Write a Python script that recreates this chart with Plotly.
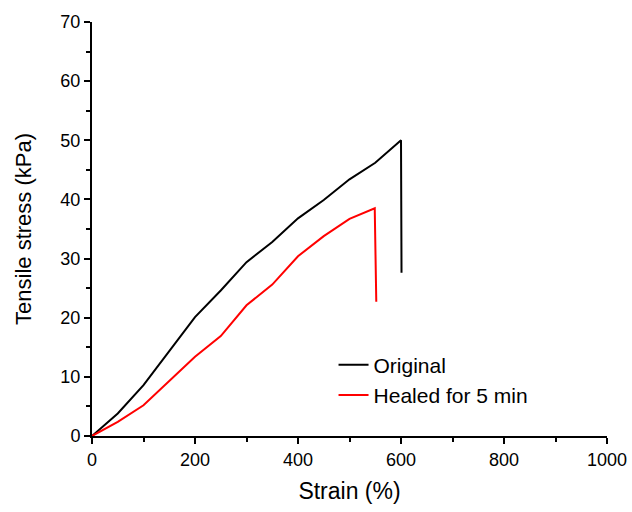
import plotly.graph_objects as go

strain_orig = [0, 50, 100, 150, 200, 250, 300, 350, 400, 450, 500, 550, 600, 601]
stress_orig = [0, 3.8, 8.6, 14.3, 20.1, 24.6, 29.4, 32.8, 36.8, 39.9, 43.4, 46.2, 50.0, 27.6]

strain_heal = [0, 50, 100, 150, 200, 250, 300, 350, 400, 450, 500, 549, 552]
stress_heal = [0, 2.4, 5.2, 9.3, 13.4, 16.9, 22.1, 25.6, 30.4, 33.8, 36.7, 38.5, 22.7]

names = ["Original", "Healed for 5 min"]
colors = ["black", "#ff0000"]

FONT = "Liberation Sans, Arial"

fig = go.Figure()
fig.add_trace(go.Scatter(x=strain_orig, y=stress_orig, mode="lines", name=names[0],
                         line=dict(color=colors[0], width=2)))
fig.add_trace(go.Scatter(x=strain_heal, y=stress_heal, mode="lines", name=names[1],
                         line=dict(color=colors[1], width=2)))

axis_common = dict(
    showline=True, linecolor="black", linewidth=2,
    ticks="outside", ticklen=6, tickwidth=2, tickcolor="black",
    showgrid=False, zeroline=False, mirror=False, automargin=False,
    tickfont=dict(family=FONT, size=18, color="black"),
)

fig.update_xaxes(range=[0, 1000], tickvals=[0, 200, 400, 600, 800, 1000],
                 minor=dict(ticks="outside", ticklen=4, tickwidth=2, tickcolor="black", dtick=100, tick0=0),
                 title=dict(text="Strain (%)", font=dict(family=FONT, size=23, color="black"), standoff=14),
                 **axis_common)
fig.update_yaxes(range=[0, 70], tickvals=[0, 10, 20, 30, 40, 50, 60, 70],
                 minor=dict(ticks="outside", ticklen=4, tickwidth=2, tickcolor="black", dtick=5, tick0=0),
                 title=dict(text="Tensile stress (kPa)", font=dict(family=FONT, size=22, color="black"), standoff=23),
                 **axis_common)

fig.update_layout(
    width=632, height=512,
    margin=dict(l=92, r=25, t=22, b=76),
    plot_bgcolor="white", paper_bgcolor="white",
    font=dict(family=FONT, color="black"),
    legend=dict(x=0.469, y=0.135, xanchor="left", yanchor="middle",
                bgcolor="rgba(0,0,0,0)", font=dict(family=FONT, size=21, color="black"),
                itemwidth=30, tracegroupgap=0),
    showlegend=True,
)

fig.write_html("out.html")
